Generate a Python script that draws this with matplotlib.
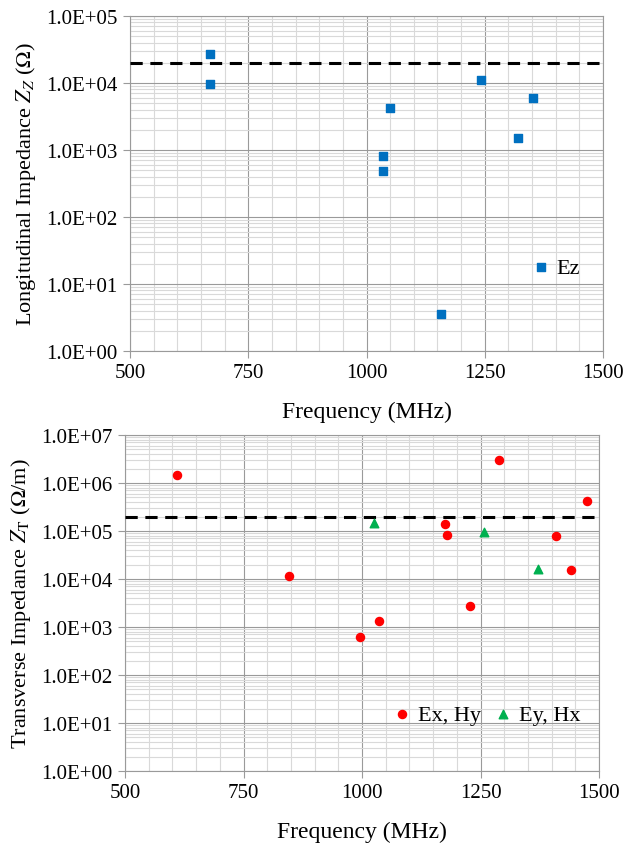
import numpy as np
import matplotlib
matplotlib.use("Agg")
import matplotlib.pyplot as plt
from matplotlib.ticker import FixedLocator, FuncFormatter, LogLocator, NullFormatter

plt.rcParams['font.family'] = ['Liberation Serif', 'DejaVu Serif']
plt.rcParams['mathtext.fontset'] = 'stix'

# ---- top panel: longitudinal impedance (Ez) ----
ez_freq = [670, 670, 1049, 1034, 1034, 1158, 1242, 1320, 1351]
ez_imp = [27500, 9500, 4300, 800, 490, 3.6, 11000, 1520, 6050]
z_limit = 2.0e4

# ---- bottom panel: transverse impedance ----
exhy_freq = [610, 845, 995, 1035, 1176, 1180, 1228, 1289, 1410, 1440, 1475]
exhy_imp = [1.49e6, 11600, 630, 1320, 1.43e5, 83000, 2750, 2.95e6, 79000, 15400, 4.3e5]
eyhx_freq = [1025, 1257, 1372]
eyhx_imp = [1.47e5, 96000, 16000]
t_limit = 2.0e5

x_ticks = [500, 750, 1000, 1250, 1500]


def sci(v, pos):
    e = int(round(np.log10(v)))
    return "1.0E+%02d" % e


def style_axis(ax, ymax_exp):
    ax.set_yscale('log')
    ax.set_xlim(500, 1500)
    ax.set_ylim(1, 10 ** ymax_exp)
    ax.xaxis.set_major_locator(FixedLocator(x_ticks))
    ax.xaxis.set_minor_locator(FixedLocator(np.arange(550, 1500, 50)))
    ax.yaxis.set_major_locator(LogLocator(base=10, numticks=20))
    ax.yaxis.set_minor_locator(LogLocator(base=10, subs=np.arange(2, 10), numticks=20))
    ax.yaxis.set_major_formatter(FuncFormatter(sci))
    ax.yaxis.set_minor_formatter(NullFormatter())
    ax.grid(which='major', color='#9a9a9a', lw=0.8)
    ax.grid(which='minor', color='#d9d9d9', lw=0.8)
    ax.set_axisbelow(True)
    for s in ax.spines.values():
        s.set_color('#9a9a9a')
        s.set_linewidth(0.8)
    ax.tick_params(which='major', direction='out', length=5, color='#9a9a9a',
                   labelsize=15, pad=4)
    ax.tick_params(which='minor', length=0)
    ax.set_xlabel('Frequency (MHz)', fontsize=17, labelpad=13)


fig = plt.figure(figsize=(6.23, 8.45), dpi=100)
ax1 = fig.add_axes([130 / 623, 1 - 352 / 845, 473 / 623, 335 / 845])
ax2 = fig.add_axes([125 / 623, 1 - 772 / 845, 474 / 623, 336 / 845])

style_axis(ax1, 5)
ax1.axhline(z_limit, color='black', ls=(0, (4, 2.5)), lw=2.2, zorder=3)
ax1.scatter(ez_freq, ez_imp, marker='s', s=38, color='#0070c0', zorder=4, label='Ez')
ax1.set_ylabel(r'Longitudinal Impedance $Z_Z$ ($\Omega$)', fontsize=16, labelpad=6)
ax1.legend(loc='center left', bbox_to_anchor=(0.850, 0.250), frameon=False, fontsize=16,
           borderaxespad=0, borderpad=0, handlelength=0.8, handletextpad=0.3)

style_axis(ax2, 7)
ax2.axhline(t_limit, color='black', ls=(0, (4, 2.5)), lw=2.2, zorder=3)
ax2.scatter(exhy_freq, exhy_imp, marker='o', s=34, color='#ff0000', zorder=4, label='Ex, Hy')
ax2.scatter(eyhx_freq, eyhx_imp, marker='^', s=38, color='#00b050', zorder=4, label='Ey, Hx')
ax2.set_ylabel(r'Transverse Impedance $Z_{\mathrm{T}}$ ($\Omega$/m)', fontsize=16, labelpad=6)
ax2.legend(loc='center left', bbox_to_anchor=(0.566, 0.167), frameon=False, fontsize=16,
           ncol=2, borderaxespad=0, borderpad=0, handlelength=0.8, handletextpad=0.3,
           columnspacing=0.6)

fig.savefig('out.png', dpi=100)
